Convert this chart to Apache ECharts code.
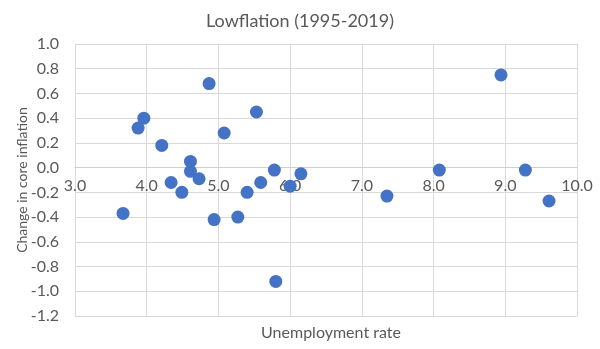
<!DOCTYPE html>
<html><head><meta charset="utf-8">
<script src="https://cdn.jsdelivr.net/npm/echarts@6/dist/echarts.min.js"></script>
<style>html,body{margin:0;padding:0;background:#fff}#c{width:600px;height:349px}</style>
</head><body><div id="c"></div>
<script>
const chartTitle = "Lowflation (1995-2019)";
const xTitle = "Unemployment rate";
const yTitle = "Change in core inflation";
const unemployment = [3.67, 3.88, 3.96, 4.21, 4.34, 4.49, 4.61, 4.61, 4.73, 4.87, 4.94, 5.08, 5.27, 5.40, 5.53, 5.59, 5.78, 5.80, 6.00, 6.15, 7.35, 8.08, 8.94, 9.28, 9.61];
const coreInflationChange = [-0.37, 0.32, 0.40, 0.18, -0.12, -0.20, 0.05, -0.03, -0.09, 0.68, -0.42, 0.28, -0.40, -0.20, 0.45, -0.12, -0.02, -0.92, -0.15, -0.05, -0.23, -0.02, 0.75, -0.02, -0.27];
const xTicks = {min: 3, max: 10, interval: 1};
const yTicks = {min: -1.2, max: 1.0, interval: 0.2};

const font = "Lato, 'Liberation Sans', sans-serif";
const chart = echarts.init(document.getElementById('c'), null, {renderer: 'canvas'});
chart.setOption({
  animation: false,
  title: [
    {text: chartTitle, left: 'center', top: 7, textStyle: {fontFamily: font, fontSize: 18, fontWeight: 'normal', color: '#595959'}},
    {text: xTitle, left: 326, textAlign: 'center', top: 320, textStyle: {fontFamily: font, fontSize: 16, fontWeight: 'normal', color: '#595959'}}
  ],
  grid: {left: 75, right: 23, top: 44, bottom: 33},
  xAxis: [{
    type: 'value', min: xTicks.min, max: xTicks.max, interval: xTicks.interval,
    position: 'bottom', offset: 0,
    axisLine: {show: true, onZero: false, lineStyle: {color: '#CFCFCF', width: 1}},
    axisTick: {show: false},
    axisLabel: {formatter: v => v.toFixed(1), fontFamily: font, fontSize: 16, color: '#595959', margin: 10},
    splitLine: {show: true, lineStyle: {color: '#D9D9D9', width: 1}}
  }],
  yAxis: {
    type: 'value', min: yTicks.min, max: yTicks.max, interval: yTicks.interval,
    name: yTitle, nameLocation: 'middle', nameRotate: 90, nameGap: 46, nameMoveOverlap: false,
    nameTextStyle: {fontFamily: font, fontSize: 14, color: '#595959'},
    axisLine: {show: false, onZero: false},
    axisTick: {show: false},
    axisLabel: {formatter: v => v.toFixed(1), fontFamily: font, fontSize: 16, color: '#595959', margin: 16},
    splitLine: {show: true, lineStyle: {color: '#D9D9D9', width: 1}}
  },
  series: [{
    type: 'scatter',
    symbol: 'circle',
    symbolSize: 13,
    itemStyle: {color: '#4472C4', opacity: 1},
    data: unemployment.map((x, i) => [x, coreInflationChange[i]])
  }]
});
// place the horizontal axis line on y = 0, as in the reference
const yZero = chart.convertToPixel({yAxisIndex: 0}, 0);
const yBottom = chart.convertToPixel({yAxisIndex: 0}, yTicks.min);
chart.setOption({xAxis: [{offset: -(yBottom - yZero)}]});
</script></body></html>
